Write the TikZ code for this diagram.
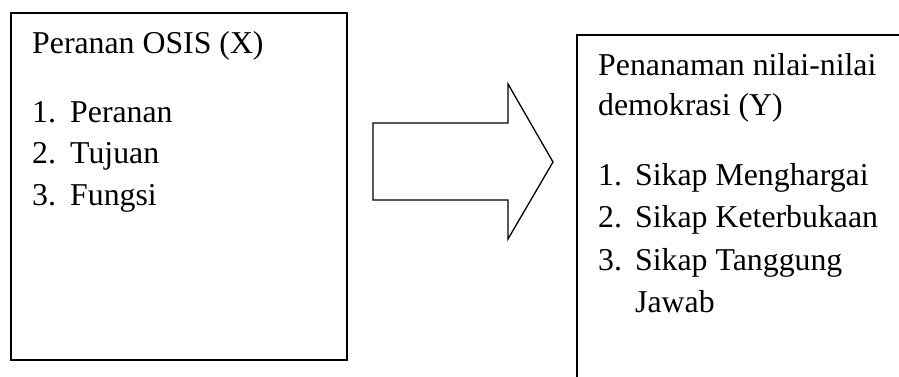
\documentclass[tikz,border=0pt]{standalone}
\usepackage{fontspec}
\setmainfont{Liberation Serif}
\begin{document}
\begin{tikzpicture}[x=1pt,y=-1pt,
  frame/.style={draw=black,line width=1.8pt},
  blockarrow/.style={draw=black,line width=1.3pt,line join=miter,fill=white},
  txt/.style={anchor=base west,inner sep=0pt,font=\fontsize{31.8}{41.5}\selectfont}]
\useasboundingbox (0,0) rectangle (899,376);

% left frame
\draw[frame] (11,13) rectangle (347,360);
\node[txt] (xtitle) at (32,53) {Peranan OSIS (X)};
\node[txt] (x1n) at (32,122) {1.};
\node[txt] (x1) at (70,122) {Peranan};
\node[txt] (x2n) at (32,163) {2.};
\node[txt] (x2) at (70,163) {Tujuan};
\node[txt] (x3n) at (32,205) {3.};
\node[txt] (x3) at (70,205) {Fungsi};

% block arrow between the frames
\draw[blockarrow] (373,123) -- (508,123) -- (508,84) -- (553,162)
  -- (508,239) -- (508,200) -- (373,200) -- cycle;

% right frame (runs past the page edge)
\draw[frame] (577,35) rectangle (930,410);
\node[txt] (ytitle1) at (598,75) {Penanaman nilai-nilai};
\node[txt] (ytitle2) at (598,115) {demokrasi (Y)};
\node[txt] (y1n) at (598,185) {1.};
\node[txt] (y1) at (635,185) {Sikap Menghargai};
\node[txt] (y2n) at (598,227) {2.};
\node[txt] (y2) at (635,227) {Sikap Keterbukaan};
\node[txt] (y3n) at (598,270) {3.};
\node[txt] (y3) at (635,270) {Sikap Tanggung};
\node[txt] (y3b) at (635,312) {Jawab};
\end{tikzpicture}
\end{document}
